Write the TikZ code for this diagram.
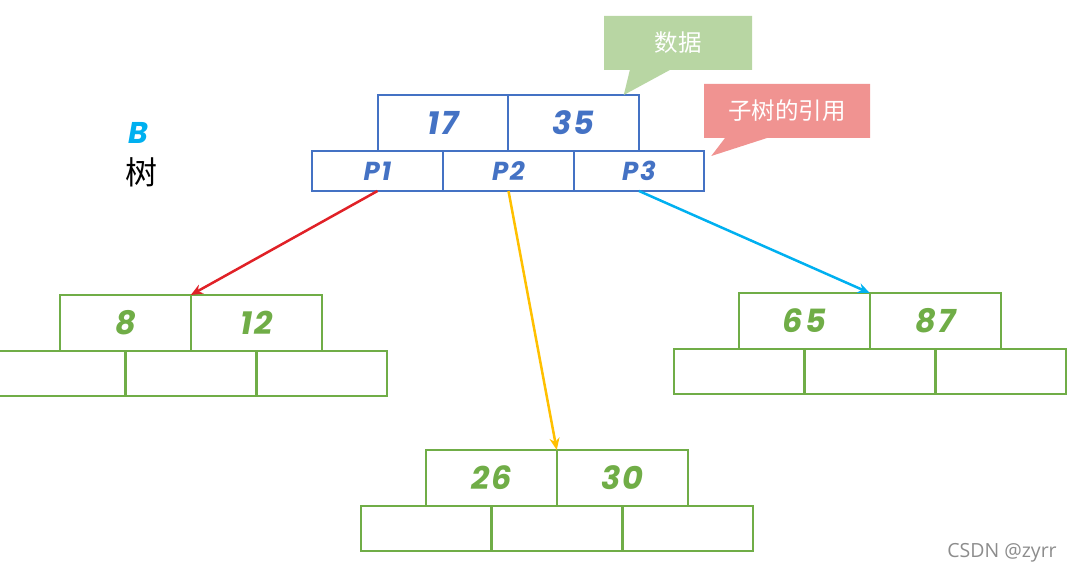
\documentclass[tikz,border=0pt]{standalone}
\usepackage{fontspec}
\usetikzlibrary{arrows.meta,shapes.callouts}
\newfontfamily\handfont{Poppins}[UprightFont=* Bold,ItalicFont=* Bold Italic,LetterSpace=6]
\newfontfamily\cjk{Noto Sans CJK SC}
\newfontfamily\markfont{Open Sans}
\definecolor{rootblue}{HTML}{4472C4}
\definecolor{leafgreen}{HTML}{70AD47}
\definecolor{notegreen}{HTML}{B8D6A3}
\definecolor{notepink}{HTML}{F09391}
\definecolor{linkred}{HTML}{E02127}
\definecolor{linkyellow}{HTML}{FFC000}
\definecolor{linkcyan}{HTML}{00B0F0}
\tikzset{
  keycell/.style={draw,rectangle,line width=2pt,outer sep=0pt,minimum width=130.5pt,minimum height=56pt,font=\handfont\itshape\fontsize{32}{32}\selectfont},
  ptrcell/.style={keycell,minimum height=40pt,font=\handfont\itshape\fontsize{26}{26}\selectfont},
  link/.style={line width=2.5pt,-{Stealth[length=12pt,width=10pt]}},
  note/.style={rectangle callout,inner sep=0pt,minimum width=148pt,minimum height=54pt,text=white,font=\cjk\fontsize{23.5}{23.5}\selectfont}
}
\begin{document}
\begin{tikzpicture}[x=1pt,y=-1pt]
\useasboundingbox (0,0) rectangle (1071,575);
% root node
\begin{scope}[rootblue]
\node[keycell,text=rootblue] (k17) at (443,123) {17};
\node[keycell,text=rootblue] (k35) at (573.5,123) {35};
\foreach \i/\x in {1/377.5,2/508.5,3/639}
  \node[ptrcell,text=rootblue] (p\i) at (\x,171) {P\i};
\end{scope}
% child nodes
\foreach \n/\cx/\cy/\a/\b in {l/125.5/323/8/12,m/491.5/478/26/30,r/804.5/321/65/87} {
  \begin{scope}[leafgreen]
  \node[keycell,text=leafgreen] (\n-k1) at (\cx,\cy) {\a};
  \node[keycell,text=leafgreen] (\n-k2) at (\cx+131,\cy) {\b};
  \foreach \j/\dx in {1/-65.5,2/65.5,3/196.5}
    \node[keycell,minimum height=45pt] (\n-p\j) at (\cx+\dx,\cy+50.5) {};
  \end{scope}
}
% links
\draw[link,linkred] (p1.south) -- (l-k1.north east);
\draw[link,linkyellow] (p2.south) -- (m-k1.north east);
\draw[link,linkcyan] (p3.south) -- (r-k1.north east);
% notes
\node[note,fill=notegreen,callout pointer width=40pt,callout absolute pointer={([xshift=-15pt]k35.north east)}] (data) at (678,43) {数据};
\node[note,fill=notepink,minimum width=166pt,callout pointer width=42pt,callout absolute pointer={([xshift=7pt,yshift=-5pt]p3.north east)}] (sub) at (787,111) {子树的引用};
% title
\node[text=linkcyan,font=\handfont\itshape\fontsize{30}{30}\selectfont] (tb) at (138,133) {B};
\node[font=\cjk\fontsize{32}{32}\selectfont] (tt) at (141,172) {树};
\node[text=black!45,font=\markfont\fontsize{19.5}{19.5}\selectfont] (mark) at (1002,553) {CSDN @zyrr};
\end{tikzpicture}
\end{document}
